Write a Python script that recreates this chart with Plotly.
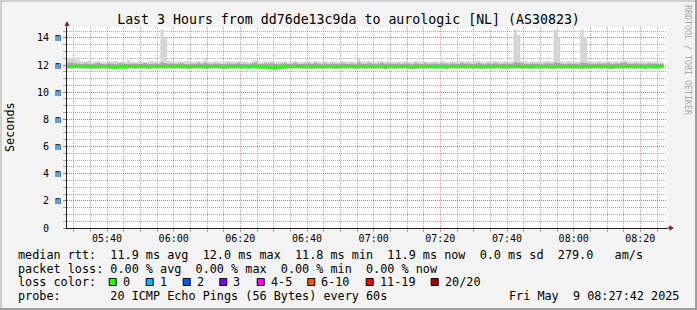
import plotly.graph_objects as go
import pandas as pd

# ---------------- data (ms), one value per minute starting 05:28 ----------------
start_time = "2025-05-09 05:28:00"

median_ms = [
    11.90, 11.88, 11.89, 11.91, 11.87, 11.88, 11.90, 11.86, 11.89, 11.88,
    11.87, 11.90, 11.88, 11.85, 11.84, 11.89, 11.88, 11.86, 11.90, 11.89,
    11.88, 11.87, 11.89, 11.90, 11.86, 11.88, 11.87, 11.89, 11.90, 11.88,
    11.87, 11.89, 11.88, 11.91, 11.90, 11.88, 11.86, 11.89, 11.87, 11.88,
    11.90, 11.86, 11.88, 11.87, 11.89, 11.90, 11.88, 11.85, 11.87, 11.89,
    11.88, 11.90, 11.87, 11.88, 11.86, 11.89, 11.88, 11.90, 11.87, 11.86,
    11.86, 11.84, 11.83, 11.85, 11.88, 11.86, 11.89, 11.87, 11.88, 11.90,
    11.88, 11.87, 11.89, 11.86, 11.88, 11.90, 11.87, 11.88, 11.89, 11.87,
    11.86, 11.88, 11.90, 11.87, 11.89, 11.88, 11.86, 11.88, 11.90, 11.87,
    11.89, 11.88, 11.87, 11.90, 11.88, 11.86, 11.89, 11.88, 11.87, 11.89,
    11.88, 11.90, 11.87, 11.86, 11.89, 11.88, 11.87, 11.90, 11.88, 11.89,
    11.87, 11.88, 11.90, 11.86, 11.88, 11.89, 11.87, 11.88, 11.90, 11.87,
    11.89, 11.87, 11.88, 11.90, 11.86, 11.88, 11.89, 11.87, 11.88, 11.90,
    11.88, 11.86, 11.89, 11.87, 11.88, 11.90, 11.87, 11.89, 11.88, 11.86,
    11.88, 11.90, 11.87, 11.89, 11.88, 11.86, 11.88, 11.90, 11.87, 11.89,
    11.88, 11.87, 11.90, 11.88, 11.86, 11.89, 11.87, 11.88, 11.90, 11.88,
    11.87, 11.89, 11.88, 11.86, 11.90, 11.88, 11.87, 11.89, 11.88, 11.90,
    11.87, 11.88, 11.89, 11.86, 11.88, 11.90, 11.87, 11.88, 11.89,
]

smoke_max_ms = [
    12.50, 12.52, 12.48, 12.38, 12.28, 12.25, 12.30, 12.22, 12.26, 12.32,
    12.24, 12.20, 12.28, 12.25, 12.30, 12.22, 12.26, 12.24, 12.35, 12.25,
    12.22, 12.28, 12.24, 12.20, 12.26, 12.30, 12.25, 12.22, 14.62, 14.02,
    12.32, 12.25, 12.22, 12.28, 12.24, 12.26, 12.30, 12.22, 12.25, 12.28,
    12.24, 12.40, 12.26, 12.22, 12.28, 12.25, 12.20, 12.24, 12.30, 12.26,
    12.22, 12.28, 12.25, 12.24, 12.20, 12.26, 12.35, 12.24, 12.22, 12.28,
    12.25, 12.30, 12.24, 12.22, 12.26, 12.28, 12.20, 12.25, 12.32, 12.24,
    12.22, 12.26, 12.28, 12.24, 12.30, 12.25, 12.22, 12.26, 12.24, 12.28,
    12.25, 12.22, 12.30, 12.26, 12.24, 12.28, 12.22, 12.45, 12.26, 12.24,
    12.28, 12.25, 12.22, 12.26, 12.30, 12.24, 12.28, 12.25, 12.22, 12.26,
    12.24, 12.28, 12.25, 12.22, 12.30, 12.26, 12.24, 12.28, 12.22, 12.25,
    12.26, 12.24, 12.30, 12.25, 12.22, 12.28, 12.26, 12.24, 12.30, 12.25,
    12.28, 12.24, 12.26, 12.32, 12.25, 12.22, 12.28, 12.26, 12.30, 12.25,
    12.24, 12.28, 12.25, 12.26, 14.62, 14.22, 12.30, 12.26, 12.24, 12.28,
    12.25, 12.26, 12.22, 12.28, 12.30, 12.25, 14.62, 14.02, 12.26, 12.24,
    12.28, 12.25, 12.26, 12.22, 14.62, 14.08, 12.30, 12.26, 12.24, 12.28,
    12.25, 12.26, 12.30, 12.24, 12.28, 12.25, 12.32, 12.35, 12.26, 12.24,
    12.28, 12.25, 12.26, 12.22, 12.28, 12.25, 12.26, 12.24, 12.25,
]

smoke_min_ms = [
    11.73, 11.71, 11.75, 11.72, 11.74, 11.70, 11.73, 11.75, 11.71, 11.73,
    11.72, 11.74, 11.69, 11.67, 11.65, 11.73, 11.71, 11.74, 11.72, 11.73,
    11.71, 11.73, 11.75, 11.72, 11.70, 11.74, 11.73, 11.71, 11.73, 11.72,
    11.74, 11.72, 11.73, 11.75, 11.71, 11.73, 11.70, 11.74, 11.72, 11.73,
    11.75, 11.71, 11.73, 11.72, 11.74, 11.73, 11.71, 11.69, 11.72, 11.74,
    11.73, 11.75, 11.71, 11.73, 11.70, 11.74, 11.72, 11.73, 11.71, 11.69,
    11.67, 11.57, 11.55, 11.59, 11.65, 11.71, 11.74, 11.72, 11.73, 11.75,
    11.72, 11.71, 11.74, 11.69, 11.73, 11.75, 11.71, 11.73, 11.74, 11.72,
    11.70, 11.73, 11.75, 11.72, 11.74, 11.73, 11.70, 11.72, 11.75, 11.71,
    11.74, 11.73, 11.71, 11.75, 11.72, 11.69, 11.74, 11.73, 11.71, 11.74,
    11.73, 11.75, 11.71, 11.65, 11.67, 11.73, 11.72, 11.75, 11.73, 11.74,
    11.71, 11.73, 11.75, 11.70, 11.73, 11.74, 11.72, 11.73, 11.75, 11.71,
    11.74, 11.71, 11.73, 11.75, 11.70, 11.73, 11.74, 11.71, 11.73, 11.75,
    11.73, 11.70, 11.74, 11.72, 11.73, 11.75, 11.71, 11.74, 11.73, 11.70,
    11.73, 11.75, 11.71, 11.74, 11.73, 11.70, 11.73, 11.75, 11.71, 11.74,
    11.73, 11.71, 11.75, 11.73, 11.70, 11.74, 11.71, 11.73, 11.75, 11.72,
    11.71, 11.74, 11.73, 11.69, 11.75, 11.72, 11.71, 11.74, 11.73, 11.75,
    11.71, 11.73, 11.74, 11.70, 11.72, 11.75, 11.71, 11.73, 11.74,
]

smoke_q_hi_ms = [
    12.14, 12.19, 12.11, 12.09, 12.07, 12.13, 12.09, 12.06, 12.11, 12.15,
    12.08, 12.06, 12.12, 12.09, 12.05, 12.11, 12.14, 12.07, 12.10, 12.09,
    12.12, 12.07, 12.10, 12.15, 12.06, 12.09, 12.11, 12.08, 12.19, 12.13,
    12.09, 12.12, 12.07, 12.11, 12.14, 12.08, 12.06, 12.10, 12.09, 12.13,
    12.07, 12.15, 12.09, 12.06, 12.12, 12.10, 12.08, 12.05, 12.11, 12.09,
    12.10, 12.13, 12.07, 12.09, 12.06, 12.12, 12.17, 12.08, 12.07, 12.11,
    12.09, 12.14, 12.07, 12.06, 12.10, 12.13, 12.07, 12.09, 12.15, 12.08,
    12.07, 12.11, 12.13, 12.08, 12.15, 12.09, 12.06, 12.11, 12.08, 12.12,
    12.09, 12.07, 12.14, 12.10, 12.08, 12.12, 12.06, 12.19, 12.10, 12.08,
    12.13, 12.09, 12.06, 12.11, 12.15, 12.08, 12.12, 12.09, 12.07, 12.11,
    12.08, 12.12, 12.09, 12.06, 12.14, 12.10, 12.08, 12.13, 12.06, 12.09,
    12.11, 12.08, 12.14, 12.09, 12.06, 12.12, 12.10, 12.08, 12.15, 12.09,
    12.12, 12.08, 12.10, 12.15, 12.09, 12.06, 12.13, 12.10, 12.14, 12.09,
    12.08, 12.12, 12.09, 12.10, 12.21, 12.17, 12.13, 12.10, 12.08, 12.12,
    12.09, 12.10, 12.06, 12.12, 12.14, 12.09, 12.19, 12.15, 12.10, 12.08,
    12.12, 12.09, 12.10, 12.06, 12.19, 12.14, 12.13, 12.10, 12.08, 12.12,
    12.09, 12.10, 12.14, 12.08, 12.12, 12.09, 12.15, 12.17, 12.10, 12.08,
    12.12, 12.09, 12.10, 12.06, 12.12, 12.09, 12.10, 12.08, 12.09,
]

smoke_q_lo_ms = [
    11.79, 11.78, 11.80, 11.79, 11.81, 11.78, 11.80, 11.77, 11.79, 11.80,
    11.78, 11.80, 11.76, 11.75, 11.74, 11.79, 11.78, 11.80, 11.79, 11.80,
    11.78, 11.79, 11.80, 11.78, 11.77, 11.80, 11.79, 11.78, 11.80, 11.79,
    11.80, 11.78, 11.79, 11.81, 11.77, 11.79, 11.76, 11.80, 11.78, 11.79,
    11.81, 11.77, 11.79, 11.78, 11.80, 11.79, 11.77, 11.76, 11.78, 11.80,
    11.79, 11.81, 11.77, 11.79, 11.76, 11.80, 11.78, 11.79, 11.77, 11.76,
    11.74, 11.68, 11.66, 11.70, 11.74, 11.77, 11.80, 11.78, 11.79, 11.81,
    11.78, 11.77, 11.80, 11.75, 11.79, 11.81, 11.77, 11.79, 11.80, 11.78,
    11.76, 11.79, 11.81, 11.78, 11.80, 11.79, 11.76, 11.78, 11.81, 11.77,
    11.80, 11.79, 11.77, 11.81, 11.78, 11.75, 11.80, 11.79, 11.77, 11.80,
    11.79, 11.81, 11.77, 11.73, 11.74, 11.79, 11.78, 11.81, 11.79, 11.80,
    11.77, 11.79, 11.81, 11.76, 11.79, 11.80, 11.78, 11.79, 11.81, 11.77,
    11.80, 11.77, 11.79, 11.81, 11.76, 11.79, 11.80, 11.77, 11.79, 11.81,
    11.79, 11.76, 11.80, 11.78, 11.79, 11.81, 11.77, 11.80, 11.79, 11.76,
    11.79, 11.81, 11.77, 11.80, 11.79, 11.76, 11.79, 11.81, 11.77, 11.80,
    11.79, 11.77, 11.81, 11.79, 11.76, 11.80, 11.77, 11.79, 11.81, 11.78,
    11.77, 11.80, 11.79, 11.75, 11.81, 11.78, 11.77, 11.80, 11.79, 11.81,
    11.77, 11.79, 11.80, 11.76, 11.78, 11.81, 11.77, 11.79, 11.80,
]

y_tick_values = [0, 2, 4, 6, 8, 10, 12, 14]
y_tick_labels = ["0\u00a0\u00a0", "2 m", "4 m", "6 m", "8 m", "10 m", "12 m", "14 m"]

title_text = "Last 3 Hours from dd76de13c9da to aurologic [NL] (AS30823)"
legend_lines = [
    "median rtt:  11.9 ms avg  12.0 ms max  11.8 ms min  11.9 ms now  0.0 ms sd  279.0   am/s",
    "packet loss: 0.00 % avg  0.00 % max  0.00 % min  0.00 % now",
    "loss color:",
    "probe:       20 ICMP Echo Pings (56 Bytes) every 60s",
]
loss_labels = ["0", "1", "2", "3", "4-5", "6-10", "11-19", "20/20"]
loss_colors = ["#26ff00", "#00b8ff", "#0059ff", "#7e00ff", "#ff00ff", "#ff5500", "#ff0000", "#a00000"]
timestamp_text = "Fri May  9 08:27:42 2025"
watermark = "RRDTOOL / TOBI OETIKER"

# ---------------- geometry ----------------
W, H = 697, 310
PL, PR, PT, PB = 67, 667, 27, 228
MONO = "DejaVu Sans Mono"


def xp(px):
    return (px - PL) / (PR - PL)


def yp(py):
    return (PB - py) / (PB - PT)


n = len(median_ms)
t0 = pd.Timestamp(start_time)
times = [t0 + pd.Timedelta(minutes=i) for i in range(n + 1)]


def ext(v):
    return list(v) + [v[-1]]


fig = go.Figure()
fig.add_trace(go.Scatter(x=times, y=ext(smoke_min_ms), mode="lines", line=dict(width=0, shape="hv"),
                         hoverinfo="skip", showlegend=False))
fig.add_trace(go.Scatter(x=times, y=ext(smoke_max_ms), mode="lines", line=dict(width=0, shape="hv"),
                         fill="tonexty", fillcolor="#d6d6d6", hoverinfo="skip", showlegend=False))
fig.add_trace(go.Scatter(x=times, y=ext(smoke_q_lo_ms), mode="lines", line=dict(width=0, shape="hv"),
                         hoverinfo="skip", showlegend=False))
fig.add_trace(go.Scatter(x=times, y=ext(smoke_q_hi_ms), mode="lines", line=dict(width=0, shape="hv"),
                         fill="tonexty", fillcolor="#a4a4a4", hoverinfo="skip", showlegend=False))
fig.add_trace(go.Scatter(x=times, y=ext(median_ms), mode="lines", line=dict(width=3, shape="hv", color="#26ff00"),
                         hoverinfo="skip", showlegend=False))

major_grid = "rgba(222,79,79,0.6)"
minor_grid = "rgba(143,143,143,0.75)"

fig.update_xaxes(
    type="date",
    range=[t0, t0 + pd.Timedelta(hours=3)],
    tickmode="linear", tick0="2025-05-09 05:40:00", dtick=20 * 60 * 1000,
    tickformat="%H:%M",
    tickfont=dict(family=MONO, size=10, color="#000000"),
    ticklabelstandoff=-2,
    showgrid=True, gridcolor=major_grid, griddash="1px,1px", gridwidth=1,
    ticks="outside", ticklen=3, tickcolor=major_grid,
    minor=dict(tickmode="linear", tick0="2025-05-09 05:40:00", dtick=5 * 60 * 1000,
               showgrid=True, gridcolor=minor_grid, griddash="1px,1px",
               ticks="outside", ticklen=3, tickcolor=minor_grid),
    showline=True, linecolor="#1f1f1f", linewidth=1,
    zeroline=False, fixedrange=True,
)
fig.update_yaxes(
    range=[0, 14.8],
    tickmode="array", tickvals=y_tick_values, ticktext=y_tick_labels,
    tickfont=dict(family=MONO, size=10, color="#000000"),
    showgrid=True, gridcolor=major_grid, griddash="1px,1px", gridwidth=1,
    ticks="outside", ticklen=3, tickcolor=major_grid,
    minor=dict(tickmode="linear", tick0=0, dtick=0.5,
               showgrid=True, gridcolor=minor_grid, griddash="1px,1px",
               ticks="outside", ticklen=3, tickcolor=minor_grid),
    showline=True, linecolor="#1f1f1f", linewidth=1,
    zeroline=False, fixedrange=True,
)

shapes = []


def rect_px(x0, y0, x1, y1, color):
    return dict(type="rect", xref="paper", yref="paper", x0=xp(x0), x1=xp(x1), y0=yp(y1), y1=yp(y0),
                fillcolor=color, layer="above", line=dict(width=0))


# image border (shade A top/left, shade B bottom/right)
shapes.append(rect_px(0, 0, W, 2, "#cfcfcf"))
shapes.append(rect_px(0, 0, 2, H, "#cfcfcf"))
shapes.append(rect_px(0, H - 2, W, H, "#9e9e9e"))
shapes.append(rect_px(W - 2, 0, W, H, "#9e9e9e"))

# axis extensions and arrows
shapes.append(dict(type="line", xref="paper", yref="paper", x0=xp(PR), x1=xp(670), y0=0, y1=0,
                   line=dict(color="#1f1f1f", width=1)))
shapes.append(dict(type="line", xref="paper", yref="paper", x0=0, x1=0, y0=1, y1=yp(25),
                   line=dict(color="#1f1f1f", width=1)))
shapes.append(dict(type="path", xref="paper", yref="paper",
                   path=f"M {xp(64.3)} {yp(25.8)} L {xp(69.7)} {yp(25.8)} L {xp(67)} {yp(21.3)} Z",
                   fillcolor="#7f1f1f", line=dict(width=0)))
shapes.append(dict(type="path", xref="paper", yref="paper",
                   path=f"M {xp(669.3)} {yp(225.3)} L {xp(669.3)} {yp(230.7)} L {xp(674)} {yp(228)} Z",
                   fillcolor="#7f1f1f", line=dict(width=0)))

annotations = []


def text_px(x, y, s, size=11.8, anchor="left", color="#000000", angle=0):
    annotations.append(dict(
        xref="paper", yref="paper", x=xp(x), y=yp(y), text=s.replace(" ", "\u00a0"),
        showarrow=False, xanchor=anchor, yanchor="middle", textangle=angle,
        font=dict(family=MONO, size=size, color=color),
    ))


legend_y = [254.8, 268.5, 282.2, 295.9]
for line, yy in zip(legend_lines, legend_y):
    text_px(16, yy, line)
text_px(681, 295.9, timestamp_text, anchor="right")

box_left = [108.7, 145.7, 182.7, 219.3, 256.7, 307.3, 365.7, 430.7]
for bx, lab, col in zip(box_left, loss_labels, loss_colors):
    shapes.append(dict(type="rect", xref="paper", yref="paper",
                       x0=xp(bx + 0.5), x1=xp(bx + 7.5), y0=yp(285.5), y1=yp(278.5),
                       fillcolor=col, line=dict(color="#000000", width=1)))
    text_px(bx + 12, 282.2, lab)

# y-axis title and watermark
text_px(10, 127, "Seconds", angle=-90, anchor="center")
text_px(688, 60, watermark, size=8.3, color="#a8a8a8", angle=90, anchor="center")

fig.update_layout(
    width=W, height=H,
    margin=dict(l=PL, r=W - PR, t=PT, b=H - PB, pad=0),
    paper_bgcolor="#f3f3f3", plot_bgcolor="#ffffff",
    showlegend=False,
    title=dict(text=title_text, x=0.5, xref="container", xanchor="center",
               y=1 - 19 / H, yref="container", yanchor="middle",
               font=dict(family=MONO, size=13.25, color="#000000")),
    shapes=shapes, annotations=annotations,
)

fig.write_html("out.html", config={"displayModeBar": False})
